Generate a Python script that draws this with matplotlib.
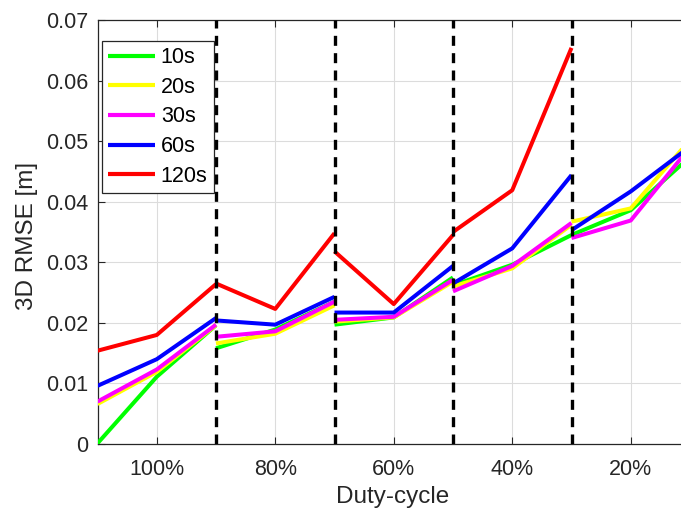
import matplotlib.pyplot as plt
import numpy as np

plt.rcParams['font.family'] = ['Liberation Sans', 'DejaVu Sans']

# duty-cycle groups, each drawn as its own 3-point piece
duty_labels = ['100%', '80%', '60%', '40%', '20%']
series_names = ['10s', '20s', '30s', '60s', '120s']
series_colors = ['#00ff00', '#ffff00', '#ff00ff', '#0000ff', '#ff0000']

rmse_10s = [[0.0001, 0.0111, 0.0196],
            [0.0158, 0.0189, 0.0235],
            [0.0197, 0.0209, 0.0275],
            [0.0262, 0.0296, 0.0345],
            [0.0345, 0.0386, 0.0474]]
rmse_20s = [[0.0066, 0.0119, 0.0196],
            [0.0166, 0.0182, 0.0229],
            [0.0202, 0.0209, 0.0268],
            [0.0260, 0.0290, 0.0362],
            [0.0367, 0.0389, 0.0502]]
rmse_30s = [[0.0070, 0.0123, 0.0197],
            [0.0177, 0.0186, 0.0235],
            [0.0205, 0.0210, 0.0271],
            [0.0252, 0.0294, 0.0365],
            [0.0340, 0.0369, 0.0490]]
rmse_60s = [[0.0096, 0.0140, 0.0208],
            [0.0204, 0.0197, 0.0243],
            [0.0217, 0.0217, 0.0294],
            [0.0265, 0.0323, 0.0444],
            [0.0353, 0.0417, 0.0491]]
rmse_120s = [[0.0154, 0.0180, 0.0264],
             [0.0265, 0.0223, 0.0348],
             [0.0318, 0.0231, 0.0345],
             [0.0350, 0.0419, 0.0654]]

all_series = [rmse_10s, rmse_20s, rmse_30s, rmse_60s, rmse_120s]

fig = plt.figure(figsize=(6.81, 5.11), dpi=100)
# axes runs a little past the right edge, like the cropped original
ax = fig.add_axes([97.5 / 681, 67 / 511, (690 - 97.5) / 681, 424 / 511])

for name, col, data in zip(series_names, series_colors, all_series):
    for i, seg in enumerate(data):
        xs = np.arange(2 * i, 2 * i + 3)
        ax.plot(xs, seg, color=col, lw=2.9, solid_capstyle='butt',
                label=name if i == 0 else None, zorder=3)

for b in [2, 4, 6, 8]:
    ax.axvline(b, color='black', ls=(0, (3.0, 2.2)), lw=2.4, zorder=4)

ax.set_xlim(0, 10)
ax.set_ylim(0, 0.07)
ax.set_xticks([1, 3, 5, 7, 9])
ax.set_xticklabels(duty_labels)
ax.set_yticks(np.arange(0, 0.071, 0.01))
ax.set_yticklabels(['0', '0.01', '0.02', '0.03', '0.04', '0.05', '0.06', '0.07'])
ax.tick_params(direction='in', labelsize=15.5, colors='#262626', length=5,
               top=True, right=True)
ax.tick_params(axis='x', pad=11)
ax.tick_params(axis='y', pad=6.5)
ax.grid(True, color='#dcdcdc', lw=0.8)
ax.set_axisbelow(True)
for s in ax.spines.values():
    s.set_color('#262626')
    s.set_linewidth(0.9)

fig.text(393 / 681, 1 - 497 / 511, 'Duty-cycle', fontsize=17.5,
         color='#262626', ha='center', va='center')
fig.text(27.5 / 681, 1 - 236 / 511, '3D RMSE [m]', rotation=90, fontsize=17.5,
         color='#262626', ha='center', va='center')

leg = ax.legend(loc='upper left', bbox_to_anchor=(0.007, 0.951),
                borderaxespad=0, fontsize=15.5,
                handlelength=2.2, handletextpad=0.25, labelspacing=0.4,
                borderpad=0.3, fancybox=False, framealpha=1)
leg.get_frame().set_edgecolor('#262626')
leg.get_frame().set_linewidth(0.9)
for h in leg.get_lines():
    h.set_linewidth(3)

fig.savefig('out.png', dpi=100)
